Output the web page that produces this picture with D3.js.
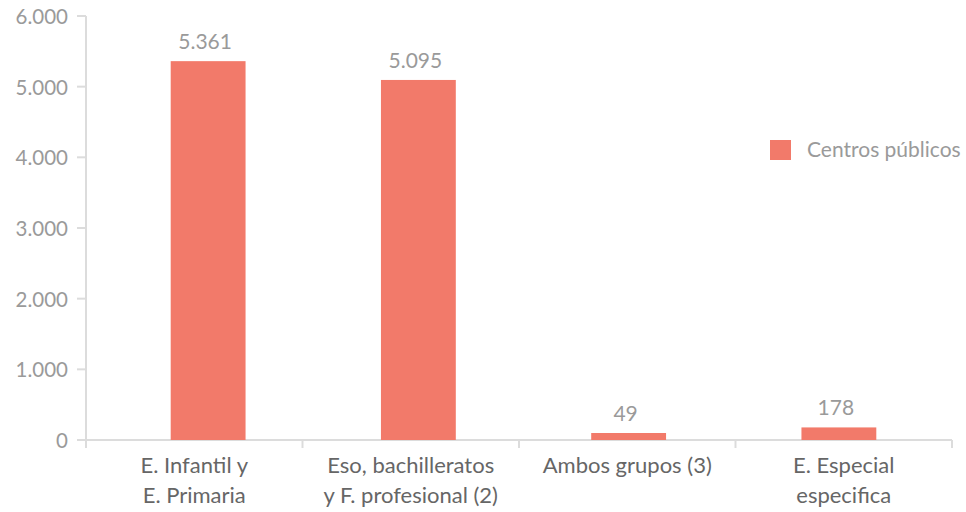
<!DOCTYPE html>
<html><head><meta charset="utf-8">
<script src="https://cdn.jsdelivr.net/npm/d3@7"></script>
<style>body{margin:0;background:#fff}svg{display:block}text{font-family:Lato,"Noto Sans",sans-serif;font-weight:400}</style>
</head><body><svg id="c" width="966" height="512"></svg>
<script>
const categories = [["E. Infantil y","E. Primaria"],["Eso, bachilleratos","y F. profesional (2)"],["Ambos grupos (3)"],["E. Especial","especifica"]];
const values = [5361, 5095, 49, 178];
const valueLabels = ["5.361","5.095","49","178"];
const yTicks = [0,1000,2000,3000,4000,5000,6000];
const yTickLabels = ["0","1.000","2.000","3.000","4.000","5.000","6.000"];
const seriesName = "Centros públicos";

const svg = d3.select("#c");
const color = "#f27a6a";
const x = d3.scaleBand().domain(d3.range(values.length)).range([103,944]).paddingInner(0.644).paddingOuter(0.322);
const y = d3.scaleLinear().domain([0,6000]).range([440,16]);
const band = d3.scaleBand().domain(d3.range(values.length)).range([86,952]);

// y axis
svg.append("line").attr("x1",86).attr("x2",86).attr("y1",y(6000)).attr("y2",y(0)).attr("stroke","#dcdcdc").attr("stroke-width",2);
svg.selectAll(".yt").data(yTicks).join("line").attr("x1",77).attr("x2",86).attr("y1",d=>y(d)).attr("y2",d=>y(d)).attr("stroke","#dcdcdc").attr("stroke-width",2);
svg.selectAll(".yl").data(yTicks).join("text").attr("x",68).attr("y",d=>y(d)+8).attr("text-anchor","end")
  .attr("font-size",20.5).attr("fill","#9a9a9a").text((d,i)=>yTickLabels[i]);

// x axis
svg.append("line").attr("x1",86).attr("x2",952).attr("y1",440).attr("y2",440).attr("stroke","#dcdcdc").attr("stroke-width",2);
const bounds = d3.range(values.length+1).map(i=> i<values.length ? band(i) : band(values.length-1)+band.bandwidth());
svg.selectAll(".xt").data(bounds).join("line").attr("x1",d=>d).attr("x2",d=>d).attr("y1",440).attr("y2",448).attr("stroke","#dcdcdc").attr("stroke-width",2);

// bars
const barTop = d=>Math.min(y(d),433);
svg.selectAll(".bar").data(values).join("rect").attr("x",(d,i)=>x(i)).attr("width",x.bandwidth())
  .attr("y",d=>barTop(d)).attr("height",d=>440-barTop(d)).attr("fill",color);
svg.selectAll(".vl").data(values).join("text").attr("x",(d,i)=>x(i)+x.bandwidth()/2-3).attr("y",d=>barTop(d)-12)
  .attr("text-anchor","middle").attr("font-size",21).attr("fill","#9a9a9a").text((d,i)=>valueLabels[i]);

// category labels
categories.forEach((lines,i)=>{
  const cx = band(i)+band.bandwidth()/2;
  const t = svg.append("text").attr("x",cx).attr("y",473).attr("text-anchor","middle").attr("font-size",22).attr("fill","#666");
  lines.forEach((l,j)=>t.append("tspan").attr("x",cx).attr("dy",j?30:0).text(l));
});

// legend
svg.append("rect").attr("x",770).attr("y",140).attr("width",21).attr("height",20).attr("fill",color);
svg.append("text").attr("x",807).attr("y",157).attr("font-size",21).attr("fill","#9a9a9a").text(seriesName);
</script></body></html>
